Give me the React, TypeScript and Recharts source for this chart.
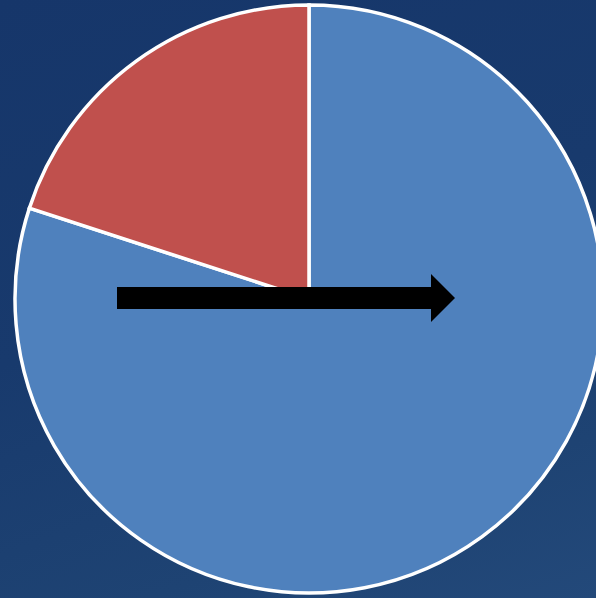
import React from 'react';
import { PieChart, Pie, Cell } from 'recharts';

const categories = ['Blue', 'Red'];
const shares = [80, 20];
const sliceColors = ['#4F81BD', '#C0504D'];

const data = categories.map((name, i) => ({ name, value: shares[i] }));

const W = 596;
const H = 598;

export default function App() {
  return (
    <div
      style={{
        position: 'fixed',
        left: 0,
        top: 0,
        width: W,
        height: H,
        overflow: 'hidden',
        background: 'linear-gradient(160deg, #16366a 0%, #183a6d 45%, #1e4373 80%, #23497a 100%)',
      }}
    >
      <PieChart width={W} height={H} margin={{ top: 0, right: 0, bottom: 0, left: 0 }}>
        <Pie
          data={data}
          dataKey="value"
          nameKey="name"
          cx={309}
          cy={299}
          outerRadius={294}
          startAngle={90}
          endAngle={-270}
          stroke="#ffffff"
          strokeWidth={3.5}
          isAnimationActive={false}
          label={false}
          labelLine={false}
        >
          {data.map((entry, index) => (
            <Cell key={`cell-${index}`} fill={sliceColors[index % sliceColors.length]} />
          ))}
        </Pie>
      </PieChart>
      {/* arrow annotation over the pie */}
      <svg
        width={W}
        height={H}
        style={{ position: 'absolute', left: 0, top: 0, pointerEvents: 'none' }}
      >
        <polygon
          points="117,287 431,287 431,274 455,298 431,322 431,309 117,309"
          fill="#000000"
        />
      </svg>
    </div>
  );
}
